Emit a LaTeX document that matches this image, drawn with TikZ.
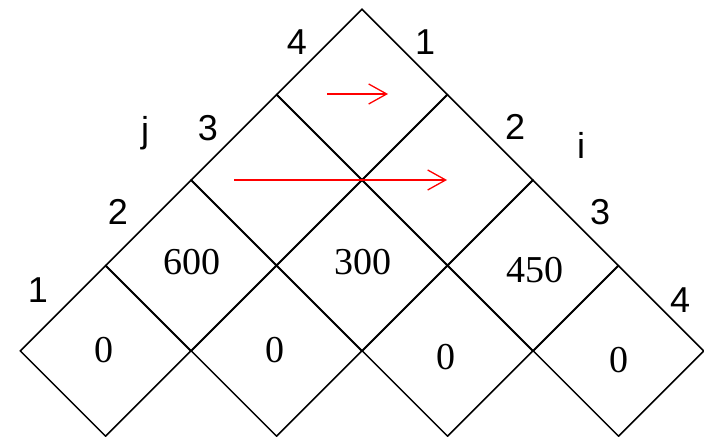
\documentclass[tikz,border=0pt]{standalone}
\usepackage{fontspec}
\setmainfont{Liberation Serif}
\setsansfont{Liberation Sans}
\usepackage{tikz}
\usepackage{xcolor}
\usetikzlibrary{arrows.meta, positioning, shapes.geometric}
\definecolor{arrowred}{HTML}{FF0000}

\begin{document}
\begin{tikzpicture}[x=0.5pt, y=0.5pt,
            cell/.style={diamond, draw=black, line width=0.75pt, minimum width=85.5pt, minimum height=85.5pt, inner sep=0pt, aspect=1},
            val/.style={inner sep=0pt, font=\fontsize{19}{21}\selectfont\rmfamily},
            idx/.style={inner sep=0pt, font=\fontsize{18}{20}\selectfont\sffamily},
            move/.style={draw=arrowred, line width=0.65pt, -{Straight Barb[length=9pt, width=10pt]}}]
            \useasboundingbox (0,0) rectangle (704,437);
            % table cells
            \node[cell] (c11) at (105.5,86) {};
            \node[cell] (c22) at (276.5,86) {};
            \node[cell] (c33) at (447.5,86) {};
            \node[cell] (c44) at (618.5,86) {};
            \node[cell] (c12) at (191,171.5) {};
            \node[cell] (c23) at (362,171.5) {};
            \node[cell] (c34) at (533,171.5) {};
            \node[cell] (c13) at (276.5,257) {};
            \node[cell] (c24) at (447.5,257) {};
            \node[cell] (c14) at (362,342.5) {};
            % values
            \node[val] (v11) at (104,87) {0};
            \node[val] (v22) at (275,87) {0};
            \node[val] (v33) at (446,80) {0};
            \node[val] (v44) at (619,77) {0};
            \node[val] (v12) at (192,175) {600};
            \node[val] (v23) at (363,175) {300};
            \node[val] (v34) at (535,167) {450};
            % j side
            \node[idx] (j1) at (38,147) {1};
            \node[idx] (j2) at (118,225) {2};
            \node[idx] (j3) at (208,309) {3};
            \node[idx] (j4) at (297,395) {4};
            \node[idx] (jname) at (145,304) {j};
            % i side
            \node[idx] (i1) at (425,395) {1};
            \node[idx] (i2) at (515,310) {2};
            \node[idx] (i3) at (600,225) {3};
            \node[idx] (i4) at (680,137) {4};
            \node[idx] (iname) at (581,292) {i};
            % red arrows
            \coordinate (a1s) at (327,343);
            \coordinate (a1e) at (388,343);
            \coordinate (a2s) at (234,257);
            \coordinate (a2e) at (447,257);
            \draw[move] (a1s) -- (a1e);
            \draw[move] (a2s) -- (a2e);
        \end{tikzpicture}
\end{document}
